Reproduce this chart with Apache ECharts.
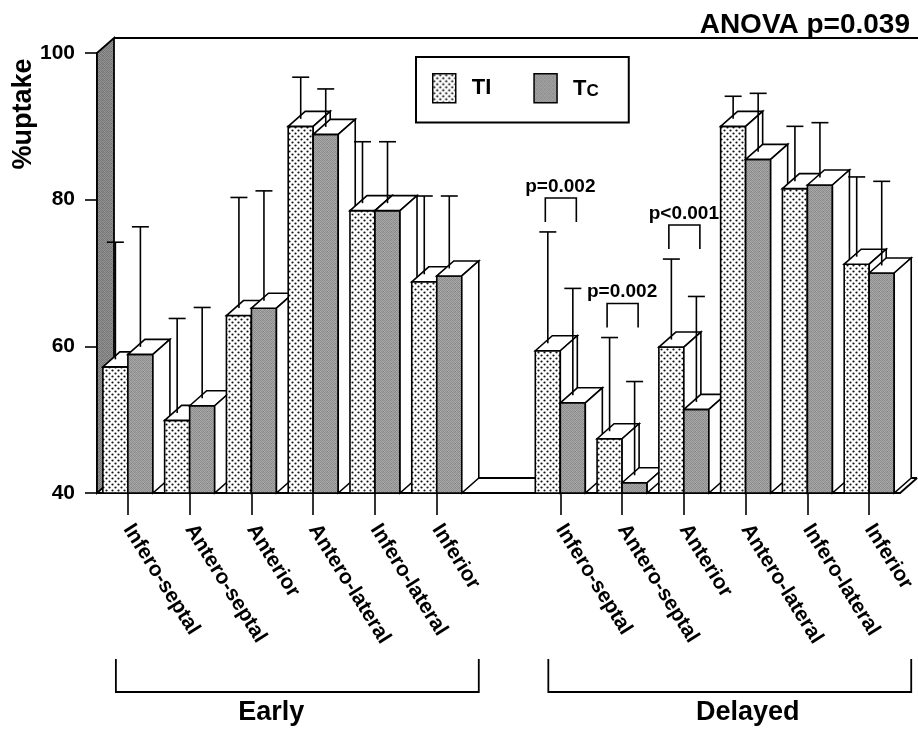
<!DOCTYPE html>
<html><head><meta charset="utf-8">
<script src="https://cdn.jsdelivr.net/npm/echarts@6/dist/echarts.min.js"></script>
<style>html,body{margin:0;padding:0;background:#fff}#c{width:918px;height:731px}</style>
</head><body><div id="c"></div>
<script>
// ---- data ----
const regions = ['Infero-septal','Antero-septal','Anterior','Antero-lateral','Infero-lateral','Inferior'];
const phases = ['Early','Delayed'];
const tlEarly   = [57.2, 49.9, 64.2, 90.0, 78.5, 68.8];
const tcEarly   = [58.9, 51.9, 65.2, 88.9, 78.5, 69.6];
const tlDelayed = [59.4, 47.4, 59.9, 90.0, 81.5, 71.2];
const tcDelayed = [52.3, 41.4, 51.4, 85.5, 82.0, 70.0];
const tlEarlySD   = [17.0, 13.9, 16.1, 6.7, 9.4, 11.7];
const tcEarlySD   = [17.4, 13.4, 16.0, 6.2, 9.4, 10.9];
const tlDelayedSD = [16.2, 13.8, 12.0, 4.1, 8.5, 11.9];
const tcDelayedSD = [15.6, 13.8, 15.4, 9.0, 8.5, 12.5];
const yTicks = [40, 60, 80, 100];
const delayedTests = [['Infero-septal','p=0.002'],['Antero-septal','p=0.002'],['Anterior','p<0.001']];
const anovaText = 'ANOVA p=0.039';
const seriesNames = ['TI','Tc'];

// ---- layout / style ----
const FONT = 'Liberation Sans, Arial, Helvetica, sans-serif';
const DX = 17, DY = -15;
const groupLabelDx = [-26, 18];
const categories = [...regions, '', ...regions];
const delayedOffset = regions.length + 1;

function mkCanvas(w,h,draw){const c=document.createElement('canvas');c.width=w;c.height=h;draw(c.getContext('2d'));return c;}
const patTI = {image: mkCanvas(6,6,g=>{g.fillStyle='#fff';g.fillRect(0,0,6,6);g.fillStyle='#111';
  g.beginPath();g.arc(1.5,1.5,1.1,0,7);g.fill();g.beginPath();g.arc(4.5,4.5,1.1,0,7);g.fill();}), repeat:'repeat'};
const greyCells = [[150,172,140,165],[170,145,178,150],[142,165,150,174],[176,150,163,140]];
function greyPat(shift){return {image: mkCanvas(4,4,g=>{for(let r=0;r<4;r++)for(let c=0;c<4;c++){const v=greyCells[r][c]-shift;g.fillStyle='rgb('+v+','+v+','+v+')';g.fillRect(c,r,1,1);}}), repeat:'repeat'};}
const patTC = greyPat(4);
const patWall = greyPat(26);
const pats = [patTI, patTC];

function buildBars(early, delayed, sdE, sdD){
  const d = [];
  early.forEach((v,i)=>d.push([i, v, sdE[i]]));
  delayed.forEach((v,i)=>d.push([delayedOffset+i, v, sdD[i]]));
  return d;
}
const barData = [buildBars(tlEarly, tlDelayed, tlEarlySD, tlDelayedSD), buildBars(tcEarly, tcDelayed, tcEarlySD, tcDelayedSD)];

function barWidth(api){return api.size([1,0])[0]*0.405;}

function barRender(s){
  return function(params, api){
    const ci = api.value(0), v = api.value(1);
    const base = api.coord([ci, yTicks[0]]), top = api.coord([ci, v]);
    const w = barWidth(api);
    const x0 = base[0] + (s===0 ? -w : 0), x1 = x0 + w;
    const yb = base[1], yt = top[1];
    const z = ci*10 + s*4;
    const st = {stroke:'#000', lineWidth:1.6, lineJoin:'miter'};
    return {type:'group', children:[
      {type:'rect', z2:z, shape:{x:x0,y:yt,width:w,height:yb-yt}, style:Object.assign({fill:pats[s]},st)},
      {type:'polygon', z2:z+1, shape:{points:[[x0,yt],[x0+DX,yt+DY],[x1+DX,yt+DY],[x1,yt]]}, style:Object.assign({fill:'#fff'},st)},
      {type:'polygon', z2:z+1, shape:{points:[[x1,yt],[x1+DX,yt+DY],[x1+DX,yb+DY],[x1,yb]]}, style:Object.assign({fill:'#fff'},st)}
    ]};
  };
}

function errRender(params, api){
  const ci = api.value(0), v = api.value(1), sd = api.value(2), s = api.value(3);
  const w = barWidth(api);
  const c = api.coord([ci, v]);
  const x = c[0] + (s===0 ? -w/2 : w/2);
  const y0 = c[1] + DY/2;
  const y1 = api.coord([ci, v+sd])[1];
  const st = {stroke:'#000', lineWidth:1.6};
  return {type:'group', children:[
    {type:'line', shape:{x1:x,y1:y0,x2:x,y2:y1}, style:st},
    {type:'line', shape:{x1:x-8.5,y1:y1,x2:x+8.5,y2:y1}, style:st}
  ]};
}
const errData = [];
barData.forEach((arr,s)=>arr.forEach(d=>errData.push([d[0], d[1], d[2], s])));

const sigData = delayedTests.map(t=>{
  const i = regions.indexOf(t[0]);
  const up = Math.max(tlDelayed[i]+tlDelayedSD[i], tcDelayed[i]+tcDelayedSD[i]);
  return [delayedOffset+i, up, t[1]];
});
function sigRender(params, api){
  const ci = api.value(0), up = api.value(1);
  const label = sigData[params.dataIndex][2];
  const w = barWidth(api);
  const c = api.coord([ci, up]);
  const xl = c[0]-w/2-2.5, xr = c[0]+w/2+3.5;
  const yl = c[1]-10, yt = yl-24;
  const st = {stroke:'#000', lineWidth:1.6, fill:null};
  return {type:'group', children:[
    {type:'polyline', shape:{points:[[xl,yl],[xl,yt],[xr,yt],[xr,yl]]}, style:st},
    {type:'text', x:c[0], y:yt-2, style:{text:label, fontFamily:FONT, fontWeight:'bold', fontSize:19, fill:'#000', align:'center', verticalAlign:'bottom'}}
  ]};
}

function frameRender(params, api){
  const cs = params.coordSys;
  const x = cs.x, y = cs.y, w = cs.width, h = cs.height;
  const st = {stroke:'#000', lineWidth:1.8, fill:null};
  return {type:'group', children:[
    {type:'line', shape:{x1:x+DX,y1:y+DY,x2:918,y2:y+DY}, style:st},
    {type:'line', shape:{x1:x+DX,y1:y+h+DY,x2:x+w+DX,y2:y+h+DY}, style:st},
    {type:'line', shape:{x1:x+w,y1:y+h,x2:x+w+DX,y2:y+h+DY}, style:st},
    {type:'polygon', shape:{points:[[x,y],[x+DX,y+DY],[x+DX,y+h+DY],[x,y+h]]}, style:{fill:patWall, stroke:'#000', lineWidth:1.8}}
  ]};
}

const groupData = phases.map((p,k)=>[k===0?0:delayedOffset, yTicks[0], k===0?regions.length-1:delayedOffset+regions.length-1]);
function groupRender(params, api){
  const a = api.value(0), b = api.value(2);
  const w = barWidth(api);
  const pa = api.coord([a, yTicks[0]]), pb = api.coord([b, yTicks[0]]);
  const xl = pa[0]-12, xr = pb[0]+w+DX;
  const yb = pa[1];
  const st = {stroke:'#000', lineWidth:1.8, fill:null};
  return {type:'group', children:[
    {type:'polyline', shape:{points:[[xl,yb+166],[xl,yb+199],[xr,yb+199],[xr,yb+166]]}, style:st},
    {type:'text', x:(xl+xr)/2+groupLabelDx[params.dataIndex], y:yb+220, style:{text:phases[params.dataIndex], fontFamily:FONT, fontWeight:'bold', fontSize:27, fill:'#000', align:'center', verticalAlign:'middle'}}
  ]};
}

const chart = echarts.init(document.getElementById('c'), null, {renderer:'canvas'});
chart.setOption({
  animation:false,
  backgroundColor:'#fff',
  textStyle:{fontFamily:FONT},
  title:{text:anovaText, right:3, top:6, textStyle:{fontFamily:FONT, fontSize:28, fontWeight:'bold', color:'#000'}},
  legend:{
    left:416, top:57, orient:'horizontal', padding:[16,30,19,16], borderColor:'#000', borderWidth:2,
    itemWidth:23, itemHeight:29, itemGap:42, icon:'rect', selectedMode:false,
    data:[{name:'TI', itemStyle:{color:patTI, borderColor:'#000', borderWidth:1.5}},
          {name:'Tc', itemStyle:{color:patTC, borderColor:'#000', borderWidth:1.5}}],
    formatter:n=> n==='Tc' ? '{t|T}{c|C}' : n,
    textStyle:{fontFamily:FONT, fontSize:22, fontWeight:'bold', color:'#000', padding:[0,0,0,11],
      rich:{t:{fontFamily:FONT, fontSize:22, fontWeight:'bold', color:'#000', verticalAlign:'bottom', lineHeight:24},
            c:{fontFamily:FONT, fontSize:17, fontWeight:'bold', color:'#000', verticalAlign:'bottom', lineHeight:24}}}
  },
  graphic:[{type:'text', x:24, y:114, rotation:Math.PI/2, style:{text:'%uptake', fontFamily:FONT, fontWeight:'bold', fontSize:27, fill:'#000', align:'center', verticalAlign:'middle'}}],
  grid:{left:97, right:17, top:53, bottom:238, containLabel:false},
  xAxis:{type:'category', data:categories, boundaryGap:true,
    axisLine:{lineStyle:{color:'#000', width:2}},
    axisTick:{show:true, alignWithLabel:true, length:22, interval:(i,v)=>v!=='', lineStyle:{color:'#000', width:1.6}},
    axisLabel:{interval:0, rotate:-58, margin:33, fontFamily:FONT, fontSize:21, fontWeight:'bold', color:'#000'},
    splitLine:{show:false}},
  yAxis:{type:'value', min:yTicks[0], max:yTicks[yTicks.length-1], interval:yTicks[1]-yTicks[0],
    axisLine:{show:true, lineStyle:{color:'#000', width:2}},
    axisTick:{show:true, length:12, lineStyle:{color:'#000', width:1.6}},
    axisLabel:{margin:22, fontFamily:FONT, fontSize:21, fontWeight:'bold', color:'#000'},
    splitLine:{show:false}},
  series:[
    {type:'custom', name:'frame', z:1, silent:true, clip:false, renderItem:frameRender, data:[[0, yTicks[0]]]},
    {type:'custom', name:seriesNames[0], z:2, silent:true, clip:false, renderItem:barRender(0), data:barData[0], itemStyle:{color:patTI}},
    {type:'custom', name:seriesNames[1], z:2, silent:true, clip:false, renderItem:barRender(1), data:barData[1], itemStyle:{color:patTC}},
    {type:'custom', name:'err', z:3, silent:true, clip:false, renderItem:errRender, data:errData},
    {type:'custom', name:'sig', z:3, silent:true, clip:false, renderItem:sigRender, data:sigData.map(d=>[d[0], d[1]])},
    {type:'custom', name:'groups', z:3, silent:true, clip:false, renderItem:groupRender, data:groupData}
  ]
});
</script></body></html>
